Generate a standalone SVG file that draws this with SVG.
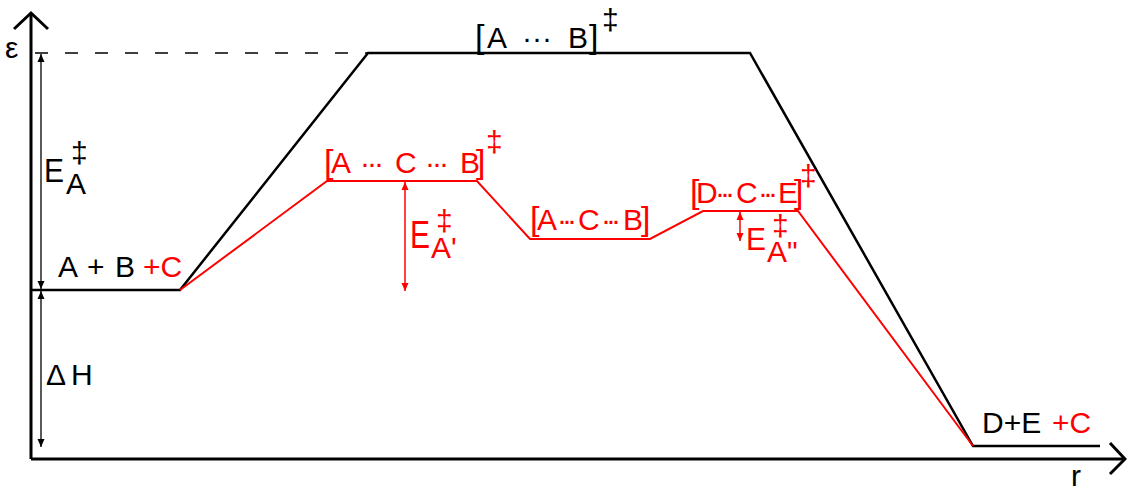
<svg xmlns="http://www.w3.org/2000/svg" width="1127" height="489" viewBox="0 0 1127 489">
<style>
.t{font-family:"Liberation Sans",Arial,sans-serif;font-size:30px;fill:#000}
.r{fill:#ff0000}
.br{font-size:34px}
.ax{stroke:#000;stroke-width:3;fill:none}
.bk{stroke:#000;stroke-width:2.5;fill:none;stroke-linejoin:miter}
.rd{stroke:#ff0000;stroke-width:2;fill:none}
.thin{stroke:#000;stroke-width:1.3}
.thinr{stroke:#ff0000;stroke-width:1.5}
</style>
<defs>
<marker id="ab" markerUnits="userSpaceOnUse" markerWidth="9" markerHeight="8" refX="8" refY="4" orient="auto-start-reverse"><path d="M0,0.5 L8,4 L0,7.5 z" fill="#000"/></marker>
<marker id="ar" markerUnits="userSpaceOnUse" markerWidth="9" markerHeight="8" refX="8" refY="4" orient="auto-start-reverse"><path d="M0,0.5 L8,4 L0,7.5 z" fill="#ff0000"/></marker>
</defs>
<rect width="1127" height="489" fill="#fff"/>
<g id="axes">
<line class="ax" x1="31" y1="13" x2="31" y2="459"/>
<line class="ax" x1="31" y1="459" x2="1125" y2="459"/>
<polyline class="ax" points="14,29 31,13 48,29"/>
<polyline class="ax" points="1110,443 1125,459 1110,474"/>
<text class="t" x="5" y="58" font-size="31">ε</text>
<text class="t" x="1071" y="486">r</text>
</g>
<g id="connectors">
<line x1="35" y1="53" x2="368" y2="53" stroke="#000" stroke-width="1.3" stroke-dasharray="13,17"/>
<polyline class="bk" points="31,290 180,290 368,53 750,53 973,446 1100,446"/>
<polyline class="rd" points="180,290 327,181 477,181 530,239 650,239 703,211 798,211 973,446"/>
<line class="thin" x1="41" y1="54" x2="41" y2="289" marker-start="url(#ab)" marker-end="url(#ab)"/>
<line class="thin" x1="41" y1="291" x2="41" y2="447" marker-start="url(#ab)" marker-end="url(#ab)"/>
<line class="thinr" x1="405" y1="182" x2="405" y2="291" marker-start="url(#ar)" marker-end="url(#ar)"/>
<line class="thinr" x1="740" y1="212" x2="740" y2="241" marker-start="url(#ar)" marker-end="url(#ar)"/>
</g>
<g id="reactants">
<text class="t" y="277"><tspan x="58">A</tspan><tspan x="87">+</tspan><tspan x="115">B</tspan><tspan x="143" class="r">+C</tspan></text>
</g>
<g id="ts-uncat">
<text class="t" y="48"><tspan x="475" class="br">[</tspan><tspan x="487">A</tspan><tspan x="522">···</tspan><tspan x="568">B</tspan><tspan x="589" class="br">]</tspan></text>
<text class="t" x="602" y="30" font-size="21">‡</text>
</g>
<g id="ts-cat1">
<text class="t r" y="173"><tspan x="324" class="br">[</tspan><tspan x="331">A</tspan><tspan x="360" letter-spacing="-3">···</tspan><tspan x="395">C</tspan><tspan x="425" letter-spacing="-3">···</tspan><tspan x="460">B</tspan><tspan x="476" class="br">]</tspan></text>
<text class="t r" x="486" y="152" font-size="21">‡</text>
</g>
<g id="intermediate">
<text class="t r" y="230"><tspan x="530" class="br">[</tspan><tspan x="537">A</tspan><tspan x="557" letter-spacing="-5">···</tspan><tspan x="578">C</tspan><tspan x="601" letter-spacing="-5">···</tspan><tspan x="623">B</tspan><tspan x="641" class="br">]</tspan></text>
</g>
<g id="ts-cat2">
<text class="t r" y="203"><tspan x="690" class="br">[</tspan><tspan x="696">D</tspan><tspan x="715" letter-spacing="-5">···</tspan><tspan x="736">C</tspan><tspan x="758" letter-spacing="-5">···</tspan><tspan x="778">E</tspan><tspan x="794" class="br">]</tspan></text>
<text class="t r" x="800" y="186" font-size="18">‡</text>
</g>
<g id="products">
<text class="t" y="433"><tspan x="982">D+E</tspan><tspan x="1052" class="r">+C</tspan></text>
</g>
<g id="labels">
<text class="t" transform="translate(44,182) scale(1,1.1)">E</text>
<text class="t" x="66" y="194" font-size="19">A</text>
<text class="t" x="71" y="163" font-size="16">‡</text>
<text class="t" y="385" font-size="31"><tspan x="46">Δ</tspan><tspan x="71">H</tspan></text>
<text class="t r" transform="translate(410,248) scale(1,1.3)">E</text>
<text class="t r" x="431" y="258" font-size="18">A'</text>
<text class="t r" x="436" y="231" font-size="17">‡</text>
<text class="t r" transform="translate(746,250) scale(1,1.05)">E</text>
<text class="t r" x="767" y="262" font-size="18">A"</text>
<text class="t r" x="772" y="236" font-size="17">‡</text>
</g>
</svg>
